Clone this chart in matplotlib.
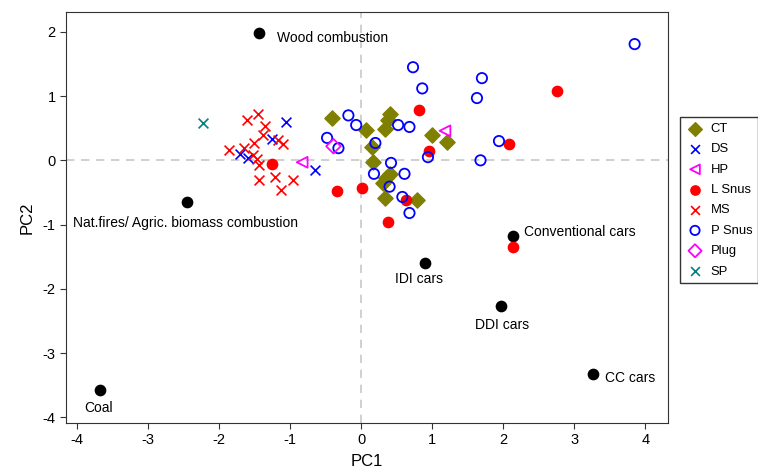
import matplotlib
matplotlib.use("Agg")
import matplotlib.pyplot as plt

plt.rcParams['font.family'] = ['Liberation Sans', 'DejaVu Sans']
plt.rcParams['axes.unicode_minus'] = False

# PCA scores
ct_x = [-0.41, 0.41, 0.38, 0.07, 0.33, 1.00, 1.21, 0.15, 0.17, 0.40, 0.35, 0.31, 0.33, 0.79]
ct_y = [0.66, 0.72, 0.63, 0.47, 0.49, 0.39, 0.28, 0.21, -0.02, -0.21, -0.28, -0.35, -0.59, -0.62]

ds_x = [-1.06, -1.25, -1.70, -1.59, -0.65]
ds_y = [0.60, 0.33, 0.10, 0.04, -0.15]

hp_x = [-0.83, 1.18]
hp_y = [-0.03, 0.46]

ls_x = [-1.25, -0.34, 0.01, 0.82, 0.96, 0.63, 0.38, 2.75, 2.08, 2.14]
ls_y = [-0.06, -0.48, -0.43, 0.78, 0.15, -0.62, -0.96, 1.08, 0.25, -1.35]

ms_x = [-1.61, -1.45, -1.35, -1.38, -1.51, -1.17, -1.10, -1.86, -1.65, -1.52,
        -1.46, -1.44, -1.44, -1.21, -0.96, -1.13]
ms_y = [0.63, 0.72, 0.53, 0.40, 0.27, 0.32, 0.25, 0.16, 0.19, 0.08,
        0.02, -0.07, -0.31, -0.26, -0.31, -0.46]

ps_x = [0.73, 0.86, 1.63, -0.18, -0.07, 0.52, 0.68, -0.48, -0.32, 0.20, 0.42,
        0.94, 0.18, 0.61, 0.40, 0.58, 0.68, 1.68, 3.85, 1.70, 1.94]
ps_y = [1.45, 1.12, 0.97, 0.70, 0.55, 0.55, 0.52, 0.35, 0.19, 0.27, -0.04,
        0.05, -0.21, -0.21, -0.41, -0.57, -0.82, 0.0, 1.81, 1.28, 0.30]

plug_x = [-0.39]
plug_y = [0.22]

sp_x = [-2.23]
sp_y = [0.58]

# emission source profiles
src_names = ["Wood combustion", "Nat.fires/ Agric. biomass combustion", "Coal",
             "Conventional cars", "IDI cars", "DDI cars", "CC cars"]
src_x = [-1.44, -2.45, -3.68, 2.14, 0.90, 1.97, 3.27]
src_y = [1.98, -0.65, -3.58, -1.18, -1.60, -2.27, -3.33]
# label offsets in points and alignment
src_off = [(13, -3.5), (-1.5, -15), (-0.7, -13), (8, 3), (-4.3, -11.5), (0.7, -13.7), (8, -3)]
src_ha = ["left", "center", "center", "left", "center", "center", "left"]

fig = plt.figure(figsize=(7.58, 4.72), dpi=100)
ax = fig.add_axes([0.0871, 0.1038, 0.7942, 0.8708])

ax.axhline(0, color="#c8c8c8", ls=(0, (5, 4)), lw=1.2, zorder=0)
ax.axvline(0, color="#c8c8c8", ls=(0, (5, 4)), lw=1.2, zorder=0)

ax.scatter(src_x, src_y, s=55, c="black", marker="o", zorder=3)
for n, x, y, off, ha in zip(src_names, src_x, src_y, src_off, src_ha):
    ax.annotate(n, (x, y), xytext=off, textcoords="offset points",
                ha=ha, va="center", fontsize=10)

ax.scatter(ct_x, ct_y, s=60, marker="D", c="#808000", label="CT", zorder=3)
ax.scatter(ds_x, ds_y, s=50, marker="x", c="#0000ff", lw=1.2, label="DS", zorder=3)
ax.scatter(hp_x, hp_y, s=60, marker="<", facecolors="none", edgecolors="#ff00ff", lw=1.3, label="HP", zorder=3)
ax.scatter(ls_x, ls_y, s=55, marker="o", c="#ff0000", label="L Snus", zorder=3)
ax.scatter(ms_x, ms_y, s=50, marker="x", c="#ff0000", lw=1.2, label="MS", zorder=3)
ax.scatter(ps_x, ps_y, s=55, marker="o", facecolors="none", edgecolors="#0000ff", lw=1.3, label="P Snus", zorder=3)
ax.scatter(plug_x, plug_y, s=55, marker="D", facecolors="none", edgecolors="#ff00ff", lw=1.3, label="Plug", zorder=3)
ax.scatter(sp_x, sp_y, s=50, marker="x", c="#008080", lw=1.2, label="SP", zorder=3)

ax.set_xlim(-4.155, 4.32)
ax.set_ylim(-4.09, 2.31)
ax.set_xticks([-4, -3, -2, -1, 0, 1, 2, 3, 4])
ax.set_yticks([-4, -3, -2, -1, 0, 1, 2])
ax.tick_params(direction="out", length=4, labelsize=10.5, color="#333333")
for sp in ax.spines.values():
    sp.set_color("#333333")
ax.set_xlabel("PC1", fontsize=12, labelpad=5)
ax.set_ylabel("PC2", fontsize=12, labelpad=6)

leg = ax.legend(loc="upper left", bbox_to_anchor=(680 / 758, 1 - 117 / 472),
                bbox_transform=fig.transFigure, borderaxespad=0, fontsize=9.4,
                frameon=True, fancybox=False, edgecolor="black", markerscale=0.9,
                handletextpad=0.5, labelspacing=0.63, borderpad=0.45, handlelength=1.4)
leg.get_frame().set_linewidth(1.0)

fig.savefig("out.png", dpi=100)
